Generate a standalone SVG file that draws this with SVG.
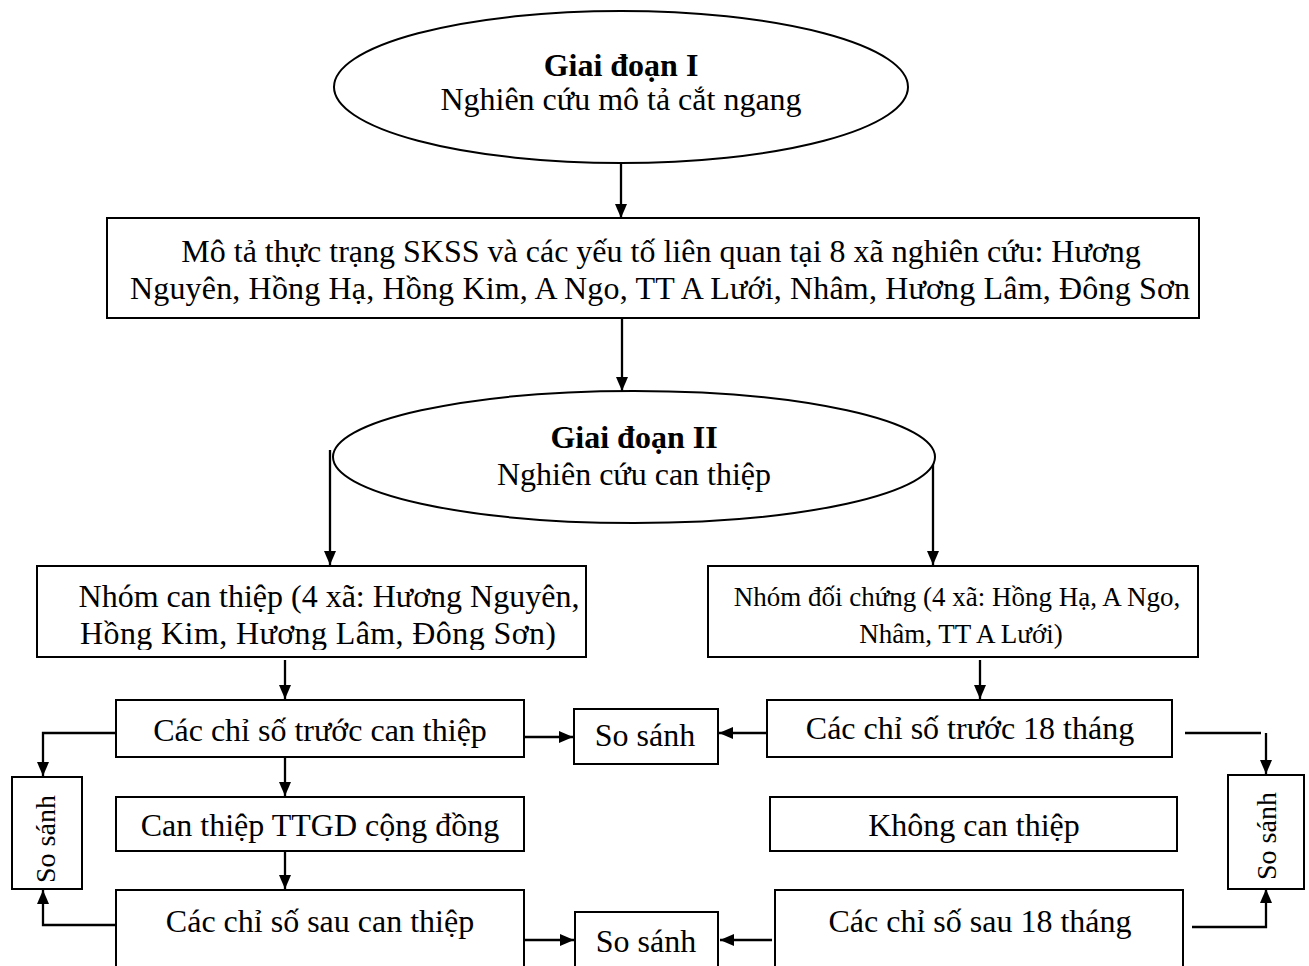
<svg xmlns="http://www.w3.org/2000/svg" width="1309" height="966" viewBox="0 0 1309 966">
  <style>
    .box { fill: #fff; stroke: #000; stroke-width: 2; }
    .t { font-family: "Liberation Serif", "Times New Roman", serif; font-size: 32px; fill: #000; text-anchor: middle; }
    .b { font-weight: bold; }
    .sm { font-size: 27px; }
    .vt { font-size: 28px; }
    .conn { fill: none; stroke: #000; stroke-width: 2.3; }
    .arr { marker-end: url(#ah); }
  </style>
  <defs>
    <marker id="ah" viewBox="0 0 14 12" refX="14" refY="6" markerWidth="14" markerHeight="12" orient="auto" markerUnits="userSpaceOnUse">
      <path d="M0,0 L14,6 L0,12 z" fill="#000"/>
    </marker>
    <clipPath id="clipL"><rect x="37" y="566" width="549" height="84"/></clipPath>
    <clipPath id="clipR"><rect x="708" y="566" width="490" height="84"/></clipPath>
  </defs>
  <rect width="1309" height="966" fill="#fff"/>

  <!-- connectors -->
  <g id="connectors">
    <line class="conn arr" x1="621" y1="163" x2="621" y2="218"/>
    <line class="conn arr" x1="622" y1="318" x2="622" y2="391"/>
    <line class="conn arr" x1="330" y1="450" x2="330" y2="565"/>
    <line class="conn arr" x1="933" y1="462" x2="933" y2="565"/>
    <line class="conn arr" x1="285" y1="660" x2="285" y2="699"/>
    <line class="conn arr" x1="980" y1="660" x2="980" y2="699"/>
    <line class="conn arr" x1="524" y1="737" x2="573" y2="737"/>
    <line class="conn arr" x1="767" y1="733" x2="719" y2="733"/>
    <polyline class="conn arr" points="116,733 43,733 43,776"/>
    <line class="conn" x1="1185" y1="733" x2="1261" y2="733"/>
    <line class="conn arr" x1="1266" y1="733" x2="1266" y2="774"/>
    <line class="conn arr" x1="285" y1="757" x2="285" y2="796"/>
    <line class="conn arr" x1="285" y1="851" x2="285" y2="889"/>
    <polyline class="conn arr" points="116,925 43,925 43,890"/>
    <polyline class="conn arr" points="1192,927 1266,927 1266,889"/>
    <line class="conn arr" x1="524" y1="940" x2="574" y2="940"/>
    <line class="conn arr" x1="772" y1="940" x2="720" y2="940"/>
  </g>

  <g id="phase1">
    <ellipse class="box" cx="621" cy="87" rx="287" ry="76"/>
    <text class="t b" x="621" y="76">Giai đoạn I</text>
    <text class="t" x="621" y="110">Nghiên cứu mô tả cắt ngang</text>
  </g>

  <g id="survey">
    <rect class="box" x="107" y="218" width="1092" height="100"/>
    <text class="t" x="661" y="262">Mô tả thực trạng SKSS và các yếu tố liên quan tại 8 xã nghiên cứu: Hương</text>
    <text class="t" x="660" y="299" textLength="1060" lengthAdjust="spacing">Nguyên, Hồng Hạ, Hồng Kim, A Ngo, TT A Lưới, Nhâm, Hương Lâm, Đông Sơn</text>
  </g>

  <g id="phase2">
    <ellipse class="box" cx="634" cy="457" rx="301" ry="66"/>
    <text class="t b" x="634" y="448">Giai đoạn II</text>
    <text class="t" x="634" y="485">Nghiên cứu can thiệp</text>
  </g>

  <g id="intervention-group">
    <rect class="box" x="37" y="566" width="549" height="91"/>
    <g clip-path="url(#clipL)">
      <text class="t" x="329" y="607">Nhóm can thiệp (4 xã: Hương Nguyên,</text>
      <text class="t" x="318" y="644" textLength="476" lengthAdjust="spacing">Hồng Kim, Hương Lâm, Đông Sơn)</text>
    </g>
  </g>

  <g id="control-group">
    <rect class="box" x="708" y="566" width="490" height="91"/>
    <g clip-path="url(#clipR)">
      <text class="t sm" x="957" y="606">Nhóm đối chứng (4 xã: Hồng Hạ, A Ngo,</text>
      <text class="t sm" x="961" y="643">Nhâm, TT A Lưới)</text>
    </g>
  </g>

  <g id="pre-intervention">
    <rect class="box" x="116" y="700" width="408" height="57"/>
    <text class="t" x="320" y="741">Các chỉ số trước can thiệp</text>
  </g>

  <g id="compare-top">
    <rect class="box" x="574" y="709" width="144" height="55"/>
    <text class="t" x="645" y="746">So sánh</text>
  </g>

  <g id="pre-18-months">
    <rect class="box" x="767" y="700" width="405" height="57"/>
    <text class="t" x="970" y="739">Các chỉ số trước 18 tháng</text>
  </g>

  <g id="compare-left">
    <rect class="box" x="12" y="777" width="70" height="112"/>
    <text class="t vt" transform="translate(55,839) rotate(-90)" x="0" y="0">So sánh</text>
  </g>

  <g id="compare-right">
    <rect class="box" x="1228" y="775" width="76" height="114"/>
    <text class="t vt" transform="translate(1276,836) rotate(-90)" x="0" y="0">So sánh</text>
  </g>

  <g id="community-intervention">
    <rect class="box" x="116" y="797" width="408" height="54"/>
    <text class="t" x="320" y="836">Can thiệp TTGD cộng đồng</text>
  </g>

  <g id="no-intervention">
    <rect class="box" x="770" y="797" width="407" height="54"/>
    <text class="t" x="974" y="836">Không can thiệp</text>
  </g>

  <g id="post-intervention">
    <rect class="box" x="116" y="890" width="408" height="90"/>
    <text class="t" x="320" y="932">Các chỉ số sau can thiệp</text>
  </g>

  <g id="compare-bottom">
    <rect class="box" x="575" y="912" width="143" height="70"/>
    <text class="t" x="646" y="952">So sánh</text>
  </g>

  <g id="post-18-months">
    <rect class="box" x="775" y="890" width="408" height="90"/>
    <text class="t" x="980" y="932">Các chỉ số sau 18 tháng</text>
  </g>
</svg>
